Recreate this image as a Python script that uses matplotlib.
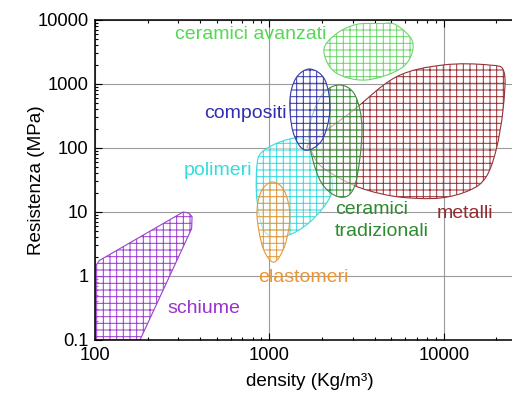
import numpy as np
import matplotlib
matplotlib.use('Agg')
import matplotlib.pyplot as plt
from matplotlib.path import Path
from matplotlib.patches import PathPatch, Polygon

plt.rcParams['font.family'] = ['Liberation Sans', 'DejaVu Sans']
plt.rcParams['hatch.linewidth'] = 0.9

# outlines: density (kg/m3), strength (MPa)
avanzati_x = [2050, 2400, 3130, 4300, 5310, 6640, 5820, 3575, 2370]
avanzati_y = [3400, 6000, 8500, 8800, 8400, 4380, 1845, 1155, 1540]

compositi_x = [1706, 2080, 2220, 2000, 1595, 1365, 1310, 1420]
compositi_y = [1715, 1155, 392, 133, 93, 178, 562, 1240]

tradiz_x = [2470, 3090, 3390, 3090, 2535, 1945, 1683, 1945]
tradiz_y = [964, 673, 191, 26.4, 17.1, 31.6, 160, 604]

metalli_x = [1706, 2890, 5310, 9860, 18100, 22100, 21800, 19900, 17400,
             14100, 9480, 5600, 3620, 2640, 1945, 1730]
metalli_y = [120, 352, 1285, 1980, 1980, 1540, 392, 93, 35,
             22, 16.5, 17.1, 22, 31.6, 54, 93]

polimeri_x = [906, 1148, 1496, 1897, 2220, 2250, 1706, 1227, 942, 848, 848]
polimeri_y = [86.6, 124, 143, 100, 45, 18.4, 6.98, 4.2, 4.87, 15.4, 54]

elastomeri_x = [1033, 1210, 1310, 1227, 1062, 918, 848, 893]
elastomeri_y = [29.4, 22, 8.98, 3.05, 1.65, 2.74, 8.98, 20.5]

schiume_x = [100, 100, 106, 320, 345, 360, 358, 181]
schiume_y = [0.1, 1.4, 1.75, 10, 9.6, 8.5, 5.5, 0.1]

y_ticks = [0.1, 1, 10, 100, 1000, 10000]
y_labels = ['0.1', '1', '10', '100', '1000', '10000']
x_ticks = [100, 1000, 10000]
x_labels = ['100', '1000', '10000']


# closed smooth outline through the traced points, built in log space
def blob(xs, ys):
    p = np.log10(np.column_stack([xs, ys]))
    n = len(p)
    verts = [p[0]]
    for i in range(n):
        a, b, c, d = p[i - 1], p[i], p[(i + 1) % n], p[(i + 2) % n]
        verts += [b + (c - a) / 6, c - (d - b) / 6, c]
    codes = [Path.MOVETO] + [Path.CURVE4] * (3 * n)
    return Path(10 ** np.array(verts), codes)


fig = plt.figure(figsize=(6.4, 4.9375), dpi=80)
ax = fig.add_axes([95 / 512, 55 / 395, 417 / 512, 320 / 395])
ax.set_xscale('log')
ax.set_yscale('log')
ax.set_xlim(100, 24550)
ax.set_ylim(0.1, 10000)
ax.set_axisbelow(True)
ax.grid(which='major', color='#9a9a9a', lw=1)

regions = [
    (polimeri_x, polimeri_y, '#3adada'),
    (elastomeri_x, elastomeri_y, '#e39a3c'),
    (avanzati_x, avanzati_y, '#6cd66c'),
    (metalli_x, metalli_y, '#983238'),
    (tradiz_x, tradiz_y, '#3c8a3c'),
    (compositi_x, compositi_y, '#3838a8'),
]
for xs, ys, col in regions:
    ax.add_patch(PathPatch(blob(xs, ys), facecolor=(1, 1, 1, 0.55),
                           edgecolor=col, hatch='++', lw=1))

ax.add_patch(Polygon(np.column_stack([schiume_x, schiume_y]), closed=True,
                     facecolor=(1, 1, 1, 0.55), edgecolor='#9b3fd0',
                     hatch='++', lw=1, joinstyle='round'))

fs = 17.5
ax.text(783, 5840, 'ceramici avanzati', color='#55d855', fontsize=fs, ha='center', va='center')
ax.text(724, 352, 'compositi', color='#2f2fb0', fontsize=fs, ha='center', va='center')
ax.text(507, 45.3, 'polimeri', color='#33dcdc', fontsize=fs, ha='center', va='center')
ax.text(2370, 11.1, 'ceramici', color='#2f8a2f', fontsize=fs, ha='left', va='center')
ax.text(2370, 4.87, 'tradizionali', color='#2f8a2f', fontsize=fs, ha='left', va='center')
ax.text(13200, 9.64, 'metalli', color='#922c30', fontsize=fs, ha='center', va='center')
ax.text(1555, 0.964, 'elastomeri', color='#ea9433', fontsize=fs, ha='center', va='center')
ax.text(421, 0.316, 'schiume', color='#9933cc', fontsize=fs, ha='center', va='center')

ax.set_yticks(y_ticks, y_labels)
ax.set_xticks(x_ticks, x_labels)
ax.tick_params(which='both', direction='in', top=True, right=False,
               labelsize=16.5, width=1)
ax.tick_params(which='major', length=6, pad=6)
ax.tick_params(which='minor', length=3)
for side in ['left', 'top', 'bottom']:
    ax.spines[side].set_linewidth(1.4)
ax.spines['right'].set_visible(False)

fig.text(37 / 512, 1 - 180 / 395, 'Resistenza (MPa)', rotation=90,
         fontsize=17, ha='center', va='center')
fig.text(310 / 512, 1 - 382 / 395, 'density (Kg/m³)', fontsize=17,
         ha='center', va='center')

fig.savefig('out.png', dpi=80)
